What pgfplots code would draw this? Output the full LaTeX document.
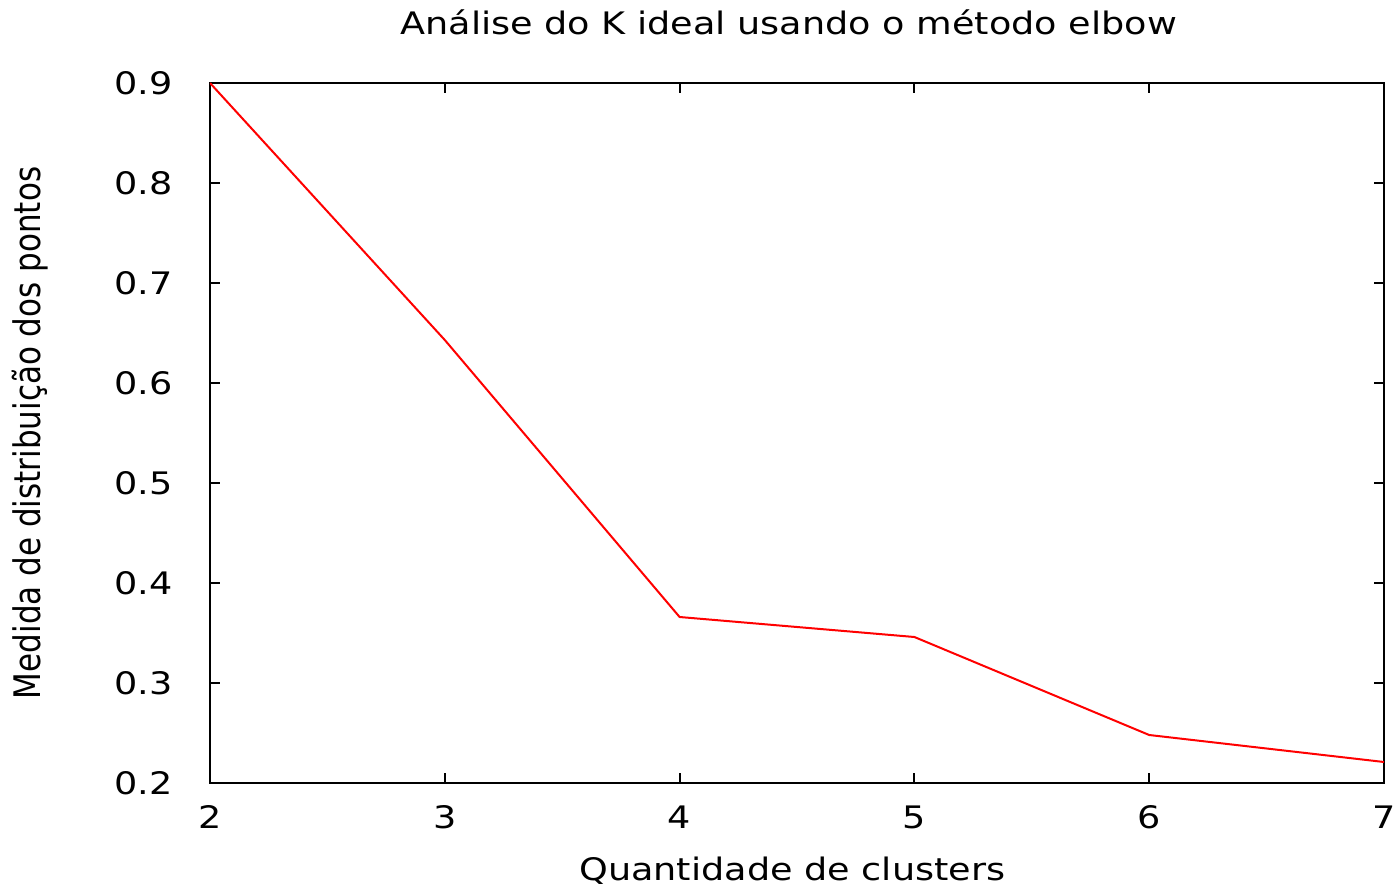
\documentclass[border=0pt]{standalone}
\usepackage{fontspec}
\setmainfont{DejaVu Sans}[FakeStretch=1.18]
\newfontfamily\ylabfont{DejaVu Sans}[FakeStretch=0.847]
\usepackage{pgfplots}
\pgfplotsset{compat=1.18}
\begin{document}
\begin{tikzpicture}
\begin{axis}[
  scale only axis,
  width=587pt, height=350pt,
  xmin=2, xmax=7, ymin=0.2, ymax=0.9,
  xtick={2,3,4,5,6,7},
  ytick={0.2,0.3,0.4,0.5,0.6,0.7,0.8,0.9},
  tick align=inside,
  major tick length=5pt,
  axis line style={line width=1pt},
  every tick/.style={black, line width=1pt},
  font=\fontsize{15.5}{18}\selectfont,
  /pgf/number format/assume math mode=true,
  x tick label style={inner sep=0pt, anchor=north, yshift=-11pt},
  y tick label style={/pgf/number format/fixed, /pgf/number format/fixed zerofill,
    /pgf/number format/precision=1, inner sep=0pt, anchor=east, xshift=-18.5pt},
  title={Análise do K ideal usando o método elbow},
  every axis title/.style={at={(axis description cs:0.493,1)}, anchor=base,
    yshift=24pt, inner sep=0pt},
  xlabel={Quantidade de clusters},
  xlabel style={at={(axis description cs:0.496,0)}, anchor=base, yshift=-48.5pt, inner sep=0pt},
  ylabel={Medida de distribuição dos pontos},
  ylabel style={at={(axis description cs:-0.144,0.5)}, anchor=base, inner sep=0pt,
    font=\ylabfont\fontsize{18.3}{20}\selectfont},
]
\addplot[red, line width=1pt] coordinates {
  (2,0.900) (3,0.643) (4,0.366) (5,0.346) (6,0.248) (7,0.221)
};
\end{axis}
\pgfresetboundingbox
\path[use as bounding box] ([xshift=-105pt,yshift=-53pt]current axis.south west)
  rectangle ([xshift=6pt,yshift=41.5pt]current axis.north east);
\end{tikzpicture}
\end{document}
